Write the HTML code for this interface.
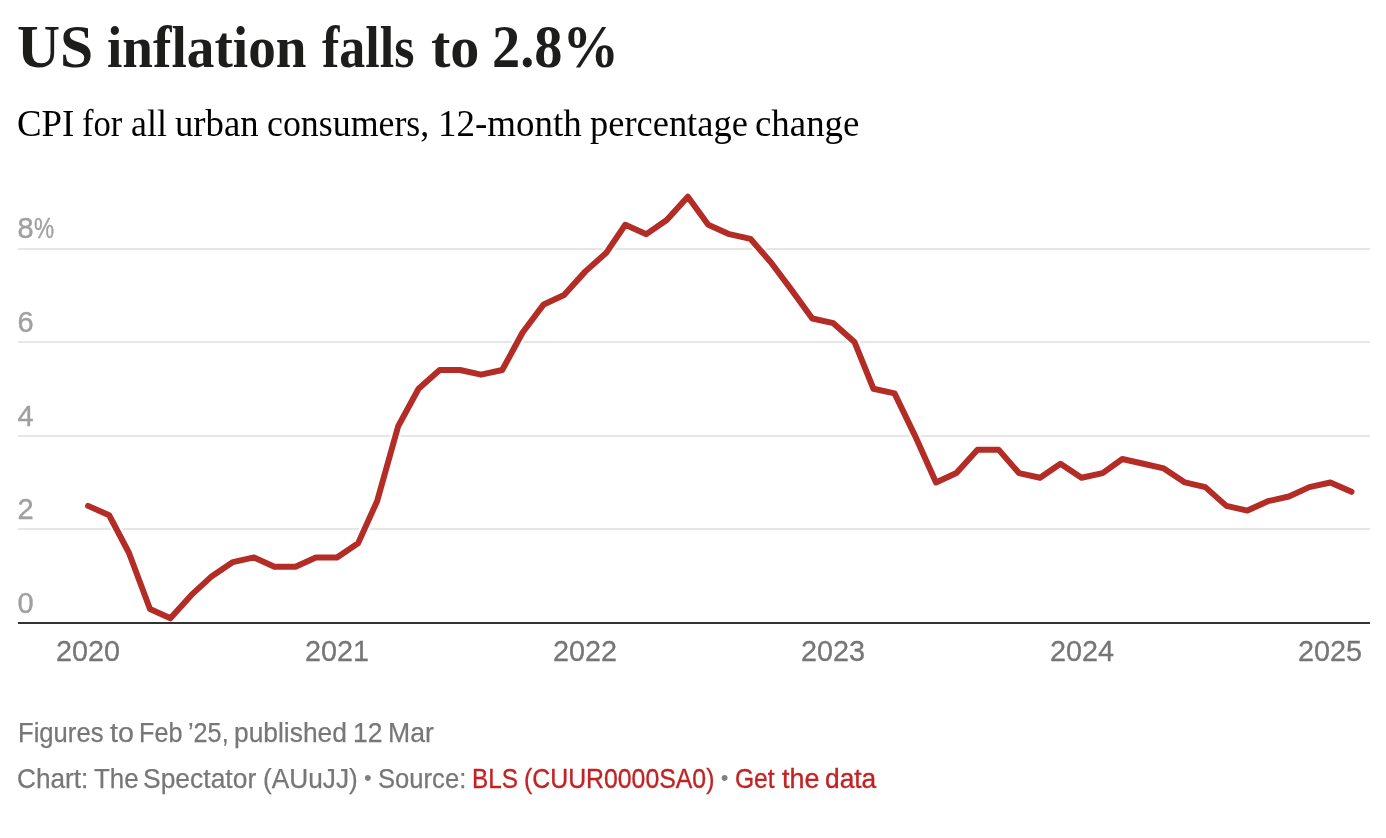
<!DOCTYPE html>
<html lang="en"><head><meta charset="utf-8"><title>US inflation falls to 2.8%</title>
<style>
html,body{margin:0;padding:0;background:#fff;}
body{width:1386px;height:838px;position:relative;overflow:hidden;font-family:"Liberation Sans",Arial,sans-serif;}
h1{position:absolute;left:0;top:11.6px;margin:0;width:1386px;height:70px;font-family:"Liberation Serif","Times New Roman",serif;font-weight:700;font-size:60.5px;line-height:70px;color:#1d1d1b;white-space:nowrap;}
h1 span,.sub span{position:absolute;top:0;transform-origin:0 50%;}
.sub{position:absolute;left:0;top:100.95px;margin:0;width:1386px;height:46px;font-family:"Liberation Serif","Times New Roman",serif;font-weight:400;font-size:37.5px;line-height:46px;color:#000;white-space:nowrap;}
.g{position:absolute;left:18px;width:1352px;height:2px;background:#e6e6e6;}
.yl{position:absolute;left:17.4px;font-size:29px;line-height:32px;color:#a0a0a0;-webkit-text-stroke:0.4px #a0a0a0;white-space:nowrap;}
.pc{display:inline-block;transform-origin:0 50%;transform:scaleX(0.78);margin-left:0.6px;}
.xl{position:absolute;top:635px;width:100px;text-align:center;font-size:29px;line-height:32px;color:#767676;-webkit-text-stroke:0.3px #767676;white-space:nowrap;transform:scaleX(0.992);}
.ftl{position:absolute;left:0;width:1386px;height:30px;font-size:27.3px;line-height:30px;color:#777;-webkit-text-stroke:0.25px #777;white-space:nowrap;}
.ftl span{position:absolute;top:0;transform-origin:0 50%;}
.ftl span.r{position:static;color:#c32222;-webkit-text-stroke:0.35px #c32222;}
.ftl span.bu{top:4.2px;font-size:22px;line-height:20px;color:#808080;-webkit-text-stroke:0;}
svg{position:absolute;left:0;top:0;}
</style></head><body>
<h1><span style="left:16.69px;top:0.10px;font-size:60.5px;transform:scaleX(0.9850)">US</span> <span style="left:107.25px;top:1.10px;font-size:58.8px;transform:scaleX(0.9393)">inflation</span> <span style="left:321.94px;top:1.10px;font-size:58.8px;transform:scaleX(0.8848)">falls</span> <span style="left:430.57px;top:1.10px;font-size:58.8px;transform:scaleX(0.9893)">to</span> <span style="left:492.12px;top:0.10px;font-size:60.5px;transform:scaleX(0.9316)">2.8%</span></h1>
<p class="sub"><span style="left:16.97px;top:-0.75px;font-size:38.6px;transform:scaleX(0.9540)">CPI</span> <span style="left:81.92px;top:-0.25px;font-size:37.5px;transform:scaleX(0.9224)">for</span> <span style="left:131.03px;top:-0.25px;font-size:37.5px;transform:scaleX(0.9562)">all</span> <span style="left:174.62px;top:-0.25px;font-size:37.5px;transform:scaleX(0.9794)">urban</span> <span style="left:266.92px;top:-0.25px;font-size:37.5px;transform:scaleX(0.9560)">consumers,</span> <span style="left:438.24px;top:-0.75px;font-size:37.8px;transform:scaleX(0.9777)">12-month</span> <span style="left:590.06px;top:-0.25px;font-size:37.5px;transform:scaleX(0.9720)">percentage</span> <span style="left:755.28px;top:-0.25px;font-size:37.5px;transform:scaleX(0.9833)">change</span></p>
<div class="g" style="top:528px"></div>
<div class="g" style="top:435px"></div>
<div class="g" style="top:341px"></div>
<div class="g" style="top:248px"></div>
<div class="yl" style="top:586.7px">0</div>
<div class="yl" style="top:492.7px">2</div>
<div class="yl" style="top:399.7px">4</div>
<div class="yl" style="top:305.9px">6</div>
<div class="yl" style="top:211.7px">8<span class="pc">%</span></div>
<div class="xl" style="left:38.1px">2020</div>
<div class="xl" style="left:287.0px">2021</div>
<div class="xl" style="left:535.2px">2022</div>
<div class="xl" style="left:783.3px">2023</div>
<div class="xl" style="left:1031.5px">2024</div>
<div class="xl" style="left:1280.4px">2025</div>

<svg width="1386" height="838" viewBox="0 0 1386 838">
<path d="M88.10,505.88 L109.18,515.25 L128.90,552.73 L149.98,608.95 L170.38,618.32 L191.46,594.89 L211.85,576.15 L232.93,562.10 L254.01,557.41 L274.41,566.78 L295.49,566.78 L315.89,557.41 L336.97,557.41 L358.05,543.36 L377.09,501.19 L398.17,426.23 L418.56,388.75 L439.64,370.01 L460.04,370.01 L481.12,374.69 L502.20,370.01 L522.60,332.53 L543.68,304.42 L564.08,295.05 L585.16,271.62 L606.23,252.88 L625.27,224.77 L646.35,234.14 L666.75,220.09 L687.83,196.67 L708.23,224.77 L729.31,234.14 L750.39,238.83 L770.79,262.25 L791.87,290.37 L812.27,318.47 L833.34,323.16 L854.42,341.90 L873.46,388.75 L894.54,393.43 L914.94,435.60 L936.02,482.45 L956.42,473.08 L977.50,449.65 L998.58,449.65 L1018.98,473.08 L1040.05,477.76 L1060.45,463.71 L1081.53,477.76 L1102.61,473.08 L1122.33,459.02 L1143.41,463.71 L1163.81,468.39 L1184.89,482.45 L1205.29,487.13 L1226.37,505.88 L1247.44,510.56 L1267.84,501.19 L1288.92,496.50 L1309.32,487.13 L1330.40,482.45 L1351.48,491.82" fill="none" stroke="#fff" stroke-width="10" stroke-linejoin="round" stroke-linecap="round"/>
<rect x="18" y="622" width="1352" height="2" fill="#333"/>
<path d="M88.10,505.88 L109.18,515.25 L128.90,552.73 L149.98,608.95 L170.38,618.32 L191.46,594.89 L211.85,576.15 L232.93,562.10 L254.01,557.41 L274.41,566.78 L295.49,566.78 L315.89,557.41 L336.97,557.41 L358.05,543.36 L377.09,501.19 L398.17,426.23 L418.56,388.75 L439.64,370.01 L460.04,370.01 L481.12,374.69 L502.20,370.01 L522.60,332.53 L543.68,304.42 L564.08,295.05 L585.16,271.62 L606.23,252.88 L625.27,224.77 L646.35,234.14 L666.75,220.09 L687.83,196.67 L708.23,224.77 L729.31,234.14 L750.39,238.83 L770.79,262.25 L791.87,290.37 L812.27,318.47 L833.34,323.16 L854.42,341.90 L873.46,388.75 L894.54,393.43 L914.94,435.60 L936.02,482.45 L956.42,473.08 L977.50,449.65 L998.58,449.65 L1018.98,473.08 L1040.05,477.76 L1060.45,463.71 L1081.53,477.76 L1102.61,473.08 L1122.33,459.02 L1143.41,463.71 L1163.81,468.39 L1184.89,482.45 L1205.29,487.13 L1226.37,505.88 L1247.44,510.56 L1267.84,501.19 L1288.92,496.50 L1309.32,487.13 L1330.40,482.45 L1351.48,491.82" fill="none" stroke="#b32c25" stroke-width="6" stroke-linejoin="round" stroke-linecap="round"/>
</svg>
<div class="ftl" style="top:718px"><span style="left:17.84px;transform:scaleX(0.9389)">Figures</span> <span style="left:109.67px;transform:scaleX(1.0518)">to</span> <span style="left:139.02px;transform:scaleX(0.9222)">Feb</span> <span style="left:188.30px;transform:scaleX(0.9237)">’25,</span> <span style="left:233.62px;transform:scaleX(0.9659)">published</span> <span style="left:352.89px;transform:scaleX(0.9715)">12</span> <span style="left:387.90px;transform:scaleX(0.9745)">Mar</span></div>
<div class="ftl" style="top:764.1px"><span style="left:17.41px;transform:scaleX(0.9590)">Chart:</span> <span style="left:94.02px;transform:scaleX(0.9490)">The</span> <span style="left:142.88px;transform:scaleX(0.9691)">Spectator</span> <span style="left:262.67px;transform:scaleX(0.9615)">(AUuJJ)</span> <span class="bu" style="left:363.9px">•</span> <span style="left:377.64px;transform:scaleX(0.9386)">Source:</span> <span class="r"><span style="left:471.79px;transform:scaleX(0.8893)">BLS</span> <span style="left:523.77px;transform:scaleX(0.9095)">(CUUR0000SA0)</span></span> <span class="bu" style="left:720.75px">•</span> <span class="r"><span style="left:735.22px;transform:scaleX(0.9000)">Get</span> <span style="left:781.65px;transform:scaleX(0.9848)">the</span> <span style="left:824.51px;transform:scaleX(0.9644)">data</span></span></div>
</body></html>
